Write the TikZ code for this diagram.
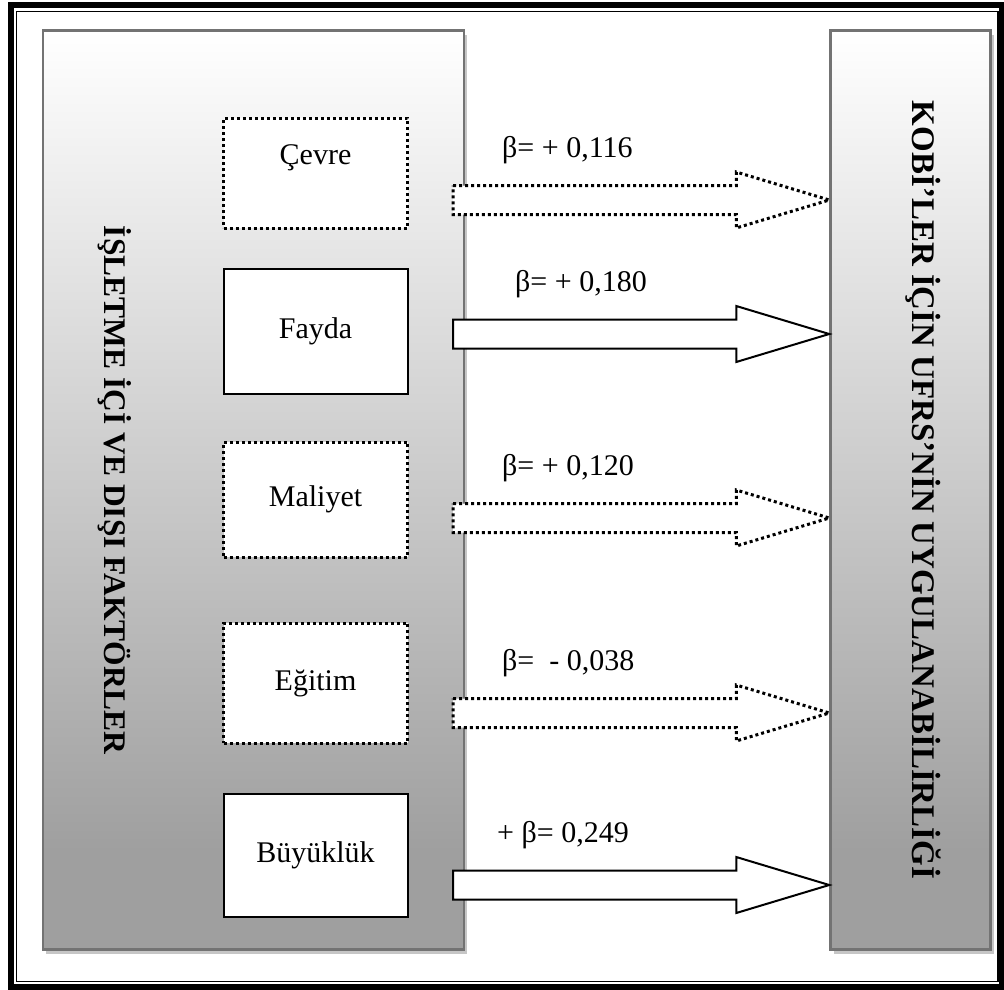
\documentclass[tikz,border=0pt]{standalone}
\usepackage{fontspec}
\setmainfont{Liberation Serif}
\usetikzlibrary{calc,shadows}
\pgfdeclareverticalshading{panelshade}{100bp}{color(0bp)=(gray!75); color(30.5bp)=(gray!75); color(75bp)=(white); color(100bp)=(white)}

\begin{document}
\begin{tikzpicture}[x=1pt, y=-1pt,
    panel/.style={draw=black!55, line width=2.5pt, shade, shading=panelshade,
      general shadow={fill=gray!45, shadow xshift=3pt, shadow yshift=-4pt}},
    vtitle/.style={rotate=-90, font=\fontsize{31.5}{36}\selectfont\bfseries},
    box/.style={draw, fill=white, line width=2pt, minimum width=184pt, align=center,
      font=\fontsize{30}{36}\selectfont},
    dotbox/.style={box, line width=3pt, dash pattern=on 3pt off 3pt},
    solidarrow/.style={draw, fill=white, line width=2pt, line join=miter},
    dotarrow/.style={solidarrow, line width=3pt, dash pattern=on 3pt off 3pt},
    beta/.style={anchor=west, inner sep=0pt, font=\fontsize{30}{34}\selectfont}]
  \useasboundingbox (0,0) rectangle (1004,989);
  \draw[line width=6pt] (10.5,5) rectangle (1002,987);
  \draw[line width=1.5pt] (16.5,11.5) rectangle (998,981.5);
  \node[panel, minimum width=421pt, minimum height=919pt] (left) at (253.5,490) {};
  \node[panel, minimum width=160pt, minimum height=919pt] (right) at (910.5,490) {};
  \node[vtitle] (lefttitle) at (115,490) {İŞLETME İÇİ VE DIŞI FAKTÖRLER};
  \node[vtitle, font=\fontsize{33}{38}\selectfont\bfseries] (righttitle) at (923,490)
    {KOBİ’LER İÇİN UFRS’NİN UYGULANABİLİRLİĞİ};
  \node[dotbox, minimum height=110pt] (cevre) at (315.5,173) {Çevre\\ \mbox{}};
  \node[box, minimum height=125pt] (fayda) at (315.5,331) {Fayda};
  \node[dotbox, minimum height=115pt] (maliyet) at (315.5,499.5) {Maliyet};
  \node[dotbox, minimum height=120pt] (egitim) at (315.5,683) {Eğitim};
  \node[box, minimum height=123pt] (buyukluk) at (315.5,855) {Büyüklük};
  \foreach \y/\kind/\txt/\lx [count=\i] in {200/dotarrow/{β= + 0,116}/502,
      334/solidarrow/{β= + 0,180}/515, 518/dotarrow/{β= + 0,120}/502,
      713/dotarrow/{β=~ - 0,038}/502, 885/solidarrow/{+ β= 0,249}/497}
  {
    \coordinate (tail\i) at (453,\y);
    \coordinate (tip\i) at (right.west |- tail\i);
    \draw[\kind] ($(tail\i)+(0,-14.5)$) -- ($(tip\i)+(-93,-14.5)$) -- ($(tip\i)+(-93,-28)$)
      -- (tip\i) -- ($(tip\i)+(-93,28)$) -- ($(tip\i)+(-93,14.5)$) -- ($(tail\i)+(0,14.5)$) -- cycle;
    \node[beta] (beta\i) at (\lx,\y-50) {\txt};
  }
\end{tikzpicture}
\end{document}
